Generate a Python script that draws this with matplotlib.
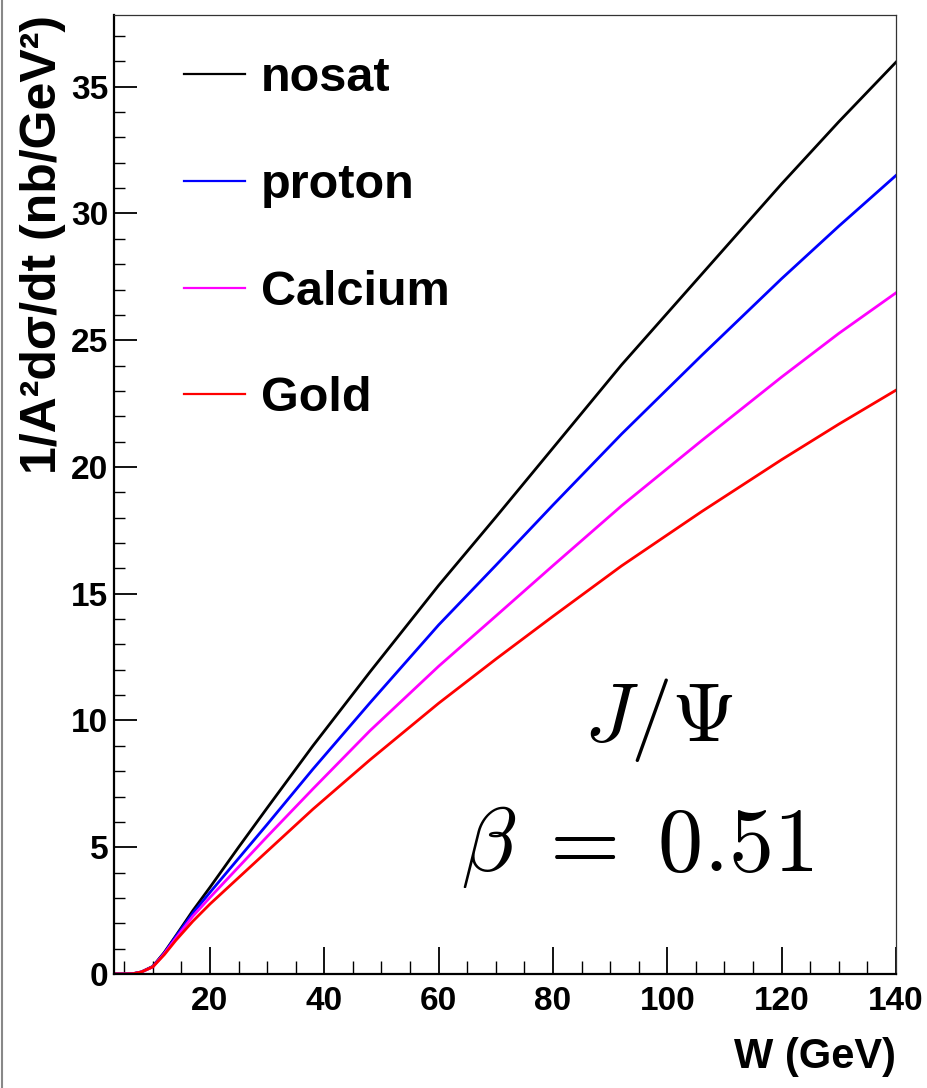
import numpy as np
import matplotlib
matplotlib.use("Agg")
import matplotlib.pyplot as plt
from matplotlib.ticker import MultipleLocator
from matplotlib.lines import Line2D

w = [3.2, 5, 6.5, 8, 10, 12, 14, 17, 20, 25, 30, 38, 48, 60, 70, 80, 92, 106, 120, 130, 140]

# 1/A^2 dsigma/dt (nb/GeV^2)
nosat = [0, 0, 0.01, 0.08, 0.30, 0.85, 1.50, 2.50, 3.42, 5.00, 6.55, 9.00, 11.92, 15.33, 18.02, 20.75, 24.03, 27.60, 31.17, 33.62, 35.97]
proton = [0, 0, 0.01, 0.08, 0.29, 0.82, 1.47, 2.40, 3.22, 4.56, 5.90, 8.08, 10.70, 13.77, 16.12, 18.50, 21.30, 24.40, 27.43, 29.50, 31.50]
calcium = [0, 0, 0.01, 0.08, 0.28, 0.80, 1.40, 2.28, 3.02, 4.22, 5.42, 7.30, 9.60, 12.14, 14.12, 16.11, 18.47, 21.04, 23.55, 25.27, 26.87]
gold = [0, 0, 0.01, 0.08, 0.28, 0.76, 1.32, 2.08, 2.76, 3.80, 4.84, 6.50, 8.45, 10.68, 12.42, 14.11, 16.10, 18.24, 20.29, 21.69, 23.03]

labels = ["nosat", "proton", "Calcium", "Gold"]
colors = ["black", "#0000ff", "#ff00ff", "#ff0000"]

plt.rcParams['font.family'] = ['Liberation Sans', 'DejaVu Sans']
plt.rcParams['font.weight'] = 'bold'

fig = plt.figure(figsize=(9.28, 10.88), dpi=100)
ax = fig.add_axes([0.1228, 0.1048, 0.8427, 0.8814])

for ys, lab, col in zip([nosat, proton, calcium, gold], labels, colors):
    ax.plot(w, ys, color=col, lw=2.0, label=lab)

ax.set_xlim(3.2, 140)
ax.set_ylim(0, 37.83)

# ROOT-like ticks: inside, only left/bottom
ax.xaxis.set_major_locator(MultipleLocator(20))
ax.xaxis.set_minor_locator(MultipleLocator(5))
ax.yaxis.set_major_locator(MultipleLocator(5))
ax.yaxis.set_minor_locator(MultipleLocator(1))
ax.tick_params(axis='x', which='major', direction='in', length=19.5, width=1.3, pad=9, labelsize=24)
ax.tick_params(axis='x', which='minor', direction='in', length=9.4, width=1.0)
ax.tick_params(axis='y', which='major', direction='in', length=16.5, width=1.3, pad=4, labelsize=24)
ax.tick_params(axis='y', which='minor', direction='in', length=8, width=1.0)
for t in ax.get_xticklabels() + ax.get_yticklabels():
    t.set_fontweight('bold')

ax.spines['left'].set_linewidth(1.6)
ax.spines['bottom'].set_linewidth(1.6)
ax.spines['top'].set_linewidth(0.9)
ax.spines['right'].set_linewidth(0.9)
ax.spines['top'].set_color('#333333')
ax.spines['right'].set_color('#333333')

ax.set_xlabel("W (GeV)", fontsize=30, fontweight='bold', loc='right')
ax.xaxis.set_label_coords(1.0, -0.066)
ax.set_ylabel("1/A²dσ/dt (nb/GeV²)", fontsize=36, fontweight='bold', loc='top')
ax.yaxis.set_label_coords(-0.061, 1.0)

leg = ax.legend(loc='upper left', bbox_to_anchor=(0.09, 0.957), frameon=False,
                prop={'size': 35, 'weight': 'bold'}, handlelength=1.25,
                handletextpad=0.33, labelspacing=1.27, borderpad=0, borderaxespad=0)
for h in leg.get_lines():
    h.set_linewidth(1.6)

ax.text(98.5, 9.21, r"$J/\Psi$", fontsize=60, ha='center', va='baseline',
        math_fontfamily='cm')
ax.text(94.7, 4.08, r"$\beta\;=\;0.51$", fontsize=65, ha='center', va='baseline',
        math_fontfamily='cm')

# canvas border on the left edge
fig.add_artist(Line2D([0.002, 0.002], [0, 1], color='#888888', lw=1.5))

fig.savefig("out.png", dpi=100)
